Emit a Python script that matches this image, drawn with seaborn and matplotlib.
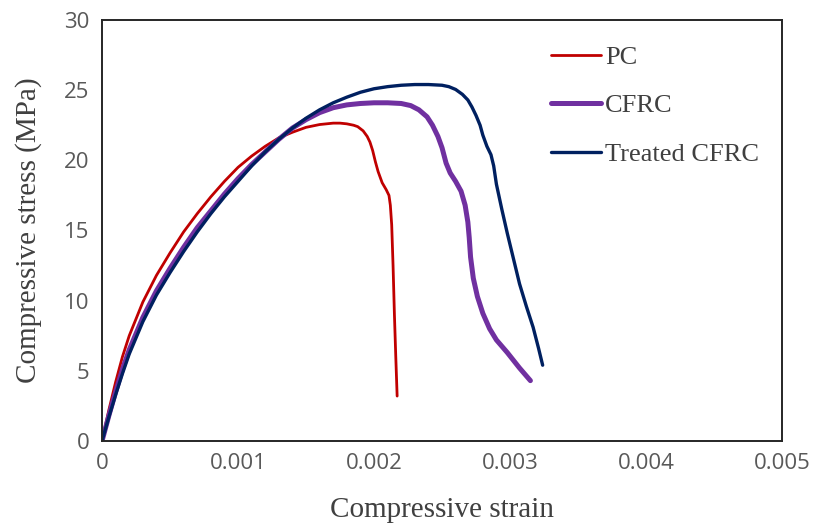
import matplotlib
matplotlib.use("Agg")
import matplotlib.pyplot as plt
import seaborn as sns
import pandas as pd

# ---- data ----
pc_strain = [0, 0.00005, 0.0001, 0.00015, 0.0002, 0.0003, 0.0004, 0.0005, 0.0006, 0.0007,
             0.0008, 0.0009, 0.001, 0.0011, 0.0012, 0.0013, 0.0014, 0.0015, 0.0016, 0.0017,
             0.00175, 0.0018, 0.00185, 0.00188, 0.00192, 0.00195, 0.00197, 0.00199, 0.00201,
             0.00203, 0.00206, 0.00209, 0.00211, 0.00212, 0.00213, 0.00214, 0.00215,
             0.00216, 0.00217]
pc_stress = [0, 2.2, 4.2, 6.0, 7.5, 9.9, 11.8, 13.4, 14.9, 16.2,
             17.4, 18.5, 19.5, 20.3, 21.0, 21.6, 22.0, 22.35, 22.55, 22.65,
             22.65, 22.6, 22.5, 22.4, 22.1, 21.7, 21.3, 20.7, 19.9,
             19.2, 18.4, 17.9, 17.5, 16.8, 15.4, 12.5, 9.0,
             6.0, 3.2]

cfrc_strain = [0, 0.00005, 0.0001, 0.00015, 0.0002, 0.0003, 0.0004, 0.0005, 0.0006, 0.0007,
               0.0008, 0.0009, 0.001, 0.0011, 0.0012, 0.0013, 0.0014, 0.0015, 0.0016, 0.0017,
               0.0018, 0.0019, 0.002, 0.0021, 0.0022, 0.00227, 0.00233, 0.00239, 0.00243,
               0.00247, 0.0025, 0.00253, 0.00256, 0.0026, 0.00264, 0.00267, 0.00269, 0.0027,
               0.00271, 0.00273, 0.00276, 0.0028, 0.00285, 0.0029, 0.00298, 0.00307, 0.00315]
cfrc_stress = [0, 1.8, 3.5, 5.1, 6.5, 8.8, 10.7, 12.3, 13.8, 15.2,
               16.4, 17.6, 18.7, 19.7, 20.6, 21.5, 22.3, 22.9, 23.4, 23.75,
               23.95, 24.05, 24.1, 24.1, 24.05, 23.9, 23.6, 23.1, 22.5,
               21.7, 20.9, 19.8, 19.1, 18.5, 17.8, 16.8, 15.6, 14.5,
               13.1, 11.6, 10.3, 9.1, 8.0, 7.2, 6.3, 5.2, 4.3]

tcfrc_strain = [0, 0.00005, 0.0001, 0.00015, 0.0002, 0.0003, 0.0004, 0.0005, 0.0006, 0.0007,
                0.0008, 0.0009, 0.001, 0.0011, 0.0012, 0.0013, 0.0014, 0.0015, 0.0016, 0.0017,
                0.0018, 0.0019, 0.002, 0.0021, 0.0022, 0.0023, 0.0024, 0.0025, 0.00255,
                0.0026, 0.00265, 0.00269, 0.00272, 0.00275, 0.00278, 0.0028, 0.00283, 0.00286,
                0.00288, 0.0029, 0.00294, 0.00298, 0.00302, 0.00307, 0.00312, 0.00317,
                0.00321, 0.00324]
tcfrc_stress = [0, 1.7, 3.3, 4.8, 6.2, 8.5, 10.4, 12.0, 13.5, 14.9,
                16.2, 17.4, 18.5, 19.6, 20.6, 21.5, 22.3, 23.0, 23.6, 24.1,
                24.5, 24.85, 25.1, 25.25, 25.35, 25.4, 25.4, 25.35, 25.25,
                25.05, 24.7, 24.3, 23.8, 23.2, 22.5, 21.8, 21.0, 20.4,
                19.6, 18.3, 16.5, 14.8, 13.2, 11.2, 9.6, 8.1,
                6.6, 5.4]

labels = ["PC", "CFRC", "Treated CFRC"]
colors = ["#C00000", "#7030A0", "#002060"]
widths = [2.0, 3.6, 2.4]

x_ticks = [0, 0.001, 0.002, 0.003, 0.004, 0.005]
x_tick_labels = ["0", "0.001", "0.002", "0.003", "0.004", "0.005"]
y_ticks = [0, 5, 10, 15, 20, 25, 30]

series = [(pc_strain, pc_stress), (cfrc_strain, cfrc_stress), (tcfrc_strain, tcfrc_stress)]

sns.set_style("white")
plt.rcParams["font.family"] = ["Liberation Serif", "DejaVu Serif"]

fig = plt.figure(figsize=(8.15, 5.29), dpi=100)
ax = fig.add_axes([0.1252, 0.1664, 0.8343, 0.7958])

for (xs, ys), lab, col, lw in zip(series, labels, colors, widths):
    df = pd.DataFrame({"strain": xs, "stress": ys})
    sns.lineplot(data=df, x="strain", y="stress", ax=ax, color=col, linewidth=lw,
                 label=lab, sort=False, estimator=None)

ax.set_xlim(0, 0.005)
ax.set_ylim(0, 30)
ax.set_xticks(x_ticks)
ax.set_xticklabels(x_tick_labels)
ax.set_yticks(y_ticks)
ax.tick_params(axis="both", length=0, pad=9, labelsize=16, labelcolor="#595959")
for lbl in ax.get_xticklabels() + ax.get_yticklabels():
    lbl.set_family(["Open Sans", "DejaVu Sans"])

for s in ax.spines.values():
    s.set_visible(True)
    s.set_color("#262626")
    s.set_linewidth(1.4)

ax.set_xlabel("Compressive strain", fontsize=21, color="#404040", labelpad=16)
ax.set_ylabel("Compressive stress (MPa)", fontsize=21, color="#404040", labelpad=16)

leg = ax.legend(loc="upper left", bbox_to_anchor=(0.645, 0.965), frameon=False,
                fontsize=19, handlelength=1.9, handletextpad=0.15, labelspacing=0.95,
                borderaxespad=0)
for t in leg.get_texts():
    t.set_color("#404040")

fig.savefig("out.png", dpi=100)
